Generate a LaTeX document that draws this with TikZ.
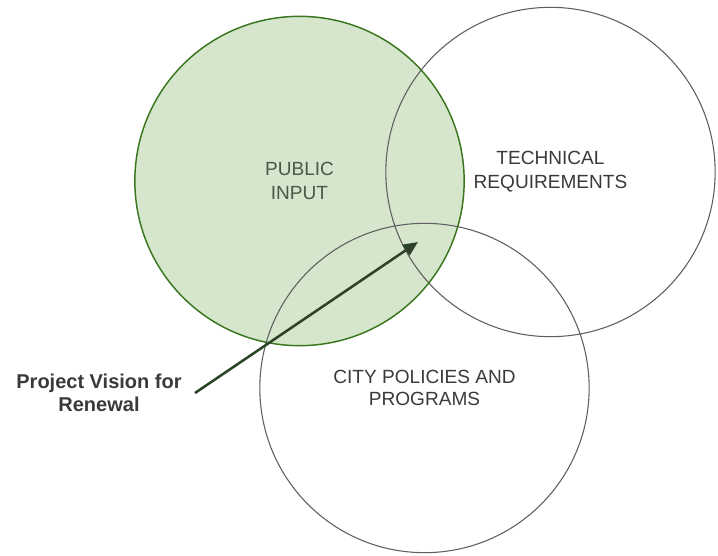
\documentclass[tikz,border=0pt]{standalone}
\usepackage{fontspec}
\setmainfont{Liberation Sans}
\usetikzlibrary{arrows.meta}
\definecolor{pubfill}{HTML}{D5E6CC}
\definecolor{publine}{HTML}{3A761E}
\definecolor{ringgray}{HTML}{5E5E5E}
\definecolor{labelgray}{HTML}{3A3A3A}
\definecolor{pubtext}{HTML}{4A5947}
\definecolor{arrowgreen}{HTML}{2C4329}
\tikzset{
  ring/.style={circle, inner sep=0pt, minimum size=247pt, align=center,
    font=\fontsize{14.3}{18}\selectfont, text=labelgray},
  grayring/.style={ring, draw=ringgray, line width=0.8pt},
  pubborder/.style={draw=publine, line width=1.1pt},
  visionlabel/.style={align=center, font=\bfseries\fontsize{15}{17.3}\selectfont, text=labelgray},
  visionarrow/.style={draw=arrowgreen, line width=1.9pt, -{Triangle[length=11pt,width=9.5pt]}}
}
\begin{document}
\begin{tikzpicture}[x=0.75pt,y=-0.75pt]
\useasboundingbox (0,0) rectangle (718,556);
\node[ring, fill=pubfill, text=pubtext] (pub) at (299.5,181) {PUBLIC\\INPUT};
\node[grayring] (tech) at (550.5,172) {TECHNICAL\\REQUIREMENTS};
\node[grayring, font=\fontsize{14.3}{17}\selectfont] (city) at (424.5,388) {CITY POLICIES AND\\PROGRAMS};
\draw[pubborder] (pub.center) circle[radius=123.5pt];
\node[visionlabel] (vision) at (99,393) {Project Vision for\\Renewal};
\coordinate (tail) at (195,393);
\coordinate (tip) at (418,242);
\draw[visionarrow] (tail) -- (tip);
\end{tikzpicture}
\end{document}
